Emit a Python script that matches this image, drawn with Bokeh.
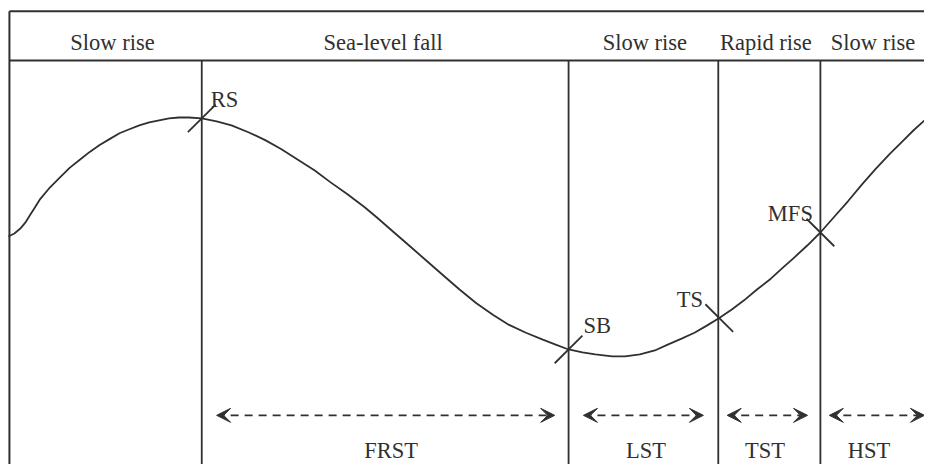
from bokeh.plotting import figure
from bokeh.models import Range1d, Arrow, VeeHead
from bokeh.core.properties import value
from bokeh.embed import file_html
from bokeh.resources import INLINE

# ---- data (in the picture's pixel coordinates) ----
curve_x = [8, 14, 20, 25, 30, 35, 40, 50, 60, 70, 80, 90, 100, 110, 120, 130, 140, 150,
           160, 170, 180, 190, 203, 218, 233, 250, 267, 283, 300, 317, 333, 350, 367,
           380, 397, 413, 430, 447, 463, 480, 497, 513, 530, 547, 560, 573, 587, 600,
           617, 630, 645, 660, 673, 687, 700, 712, 725, 738, 750, 763, 777, 790, 800,
           814, 827, 841, 855, 869, 883, 897, 910, 921, 932]
curve_y = [240, 237, 232, 226, 218, 210, 202, 190, 180, 170, 162, 154, 147, 141, 135, 131,
           127, 124, 122, 120, 119, 119, 120, 123, 127, 134, 142, 151, 162, 173, 185,
           197, 210, 221, 236, 250, 265, 280, 294, 308, 320, 330, 338, 345, 350, 355,
           358, 360, 362, 362, 360, 356, 350, 344, 338, 331, 323, 314, 305, 294, 283,
           271, 262, 249, 236, 220, 204, 187, 171, 156, 143, 132, 122]

boundary_x = [203, 573, 724, 827]

phase_labels = ["Slow rise", "Sea-level fall", "Slow rise", "Rapid rise", "Slow rise"]
phase_x = [113, 386, 650, 772, 880]

surface_names = ["RS", "SB", "TS", "MFS"]
surface_x = [203, 573, 725, 827]
surface_y = [120, 355, 323, 236]
surface_dir = [1, 1, -1, -1]          # 1 = "/" tick, -1 = "\" tick
surface_label_x = [212, 588, 682, 774]
surface_label_y = [101, 331, 304, 217]

tract_names = ["FRST", "LST", "TST", "HST"]
tract_x = [394, 651, 771, 876]
tract_start = [218, 588, 733, 836]
tract_end = [559, 709, 814, 932]

# ---- layout constants ----
LEFT, TOP, HEADER, RIGHT, BOTTOM = 9, 11, 61, 945, 480
INK = "#303030"
FONT = value("Liberation Serif")
FS = "22.5px"
TICK = 14
ARROW_Y = 422

p = figure(width=924, height=464, output_backend="svg", toolbar_location=None,
           x_range=Range1d(0, 932), y_range=Range1d(472, 0),
           x_axis_type=None, y_axis_type=None, min_border=0)
p.outline_line_color = None
p.grid.visible = False
p.background_fill_color = "white"
p.border_fill_color = "white"

# frame lines
p.segment(x0=[LEFT, LEFT, LEFT], y0=[TOP, HEADER, TOP],
          x1=[RIGHT, RIGHT, LEFT], y1=[TOP, HEADER, BOTTOM],
          line_color=INK, line_width=2)

# boundaries
p.segment(x0=boundary_x, y0=[HEADER] * len(boundary_x),
          x1=boundary_x, y1=[BOTTOM] * len(boundary_x),
          line_color=INK, line_width=1.8)

# sea-level curve
p.line(curve_x, curve_y, line_color=INK, line_width=1.8, line_join="round")

# surface ticks
tx0 = [x - TICK for x in surface_x]
tx1 = [x + TICK for x in surface_x]
ty0 = [y + d * TICK for y, d in zip(surface_y, surface_dir)]
ty1 = [y - d * TICK for y, d in zip(surface_y, surface_dir)]
p.segment(x0=tx0, y0=ty0, x1=tx1, y1=ty1, line_color=INK, line_width=1.8)

# texts
p.text(x=phase_x, y=[43] * len(phase_x), text=phase_labels, text_align="center",
       text_baseline="alphabetic", text_font=FONT, text_font_size=FS, text_color=INK)
p.text(x=surface_label_x, y=surface_label_y, text=surface_names, text_align="left",
       text_baseline="alphabetic", text_font=FONT, text_font_size=FS, text_color=INK)
p.text(x=tract_x, y=[458] * len(tract_x), text=tract_names, text_align="center",
       text_baseline="alphabetic", text_font=FONT, text_font_size=FS, text_color=INK)

# systems-tract arrows
for xs, xe in zip(tract_start, tract_end):
    p.add_layout(Arrow(
        start=VeeHead(size=14, fill_color=INK, line_color=INK, line_width=1),
        end=VeeHead(size=14, fill_color=INK, line_color=INK, line_width=1),
        x_start=xs, y_start=ARROW_Y, x_end=xe, y_end=ARROW_Y,
        line_color=INK, line_width=1.8, line_dash="8 6"))

open("out.html", "w").write(file_html(p, INLINE))
